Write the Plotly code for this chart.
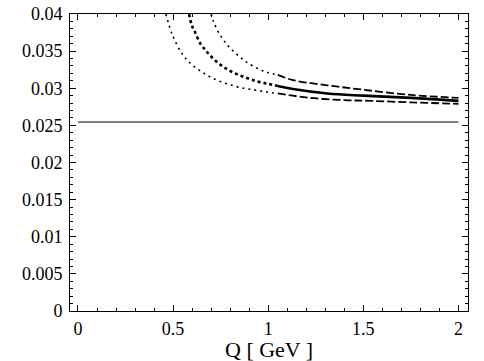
import numpy as np
import plotly.graph_objects as go

# values
q_lower = [0.462, 0.496, 0.546, 0.589, 0.651, 0.712, 0.783, 0.853, 0.923, 0.993, 1.05, 1.22, 1.40, 1.54, 1.75, 2.0]
v_lower = [0.0400, 0.0372, 0.0347, 0.0334, 0.0322, 0.0313, 0.0306, 0.0301, 0.0298, 0.0295, 0.0293, 0.0287, 0.0284, 0.0283, 0.0281, 0.0279]

q_mid = [0.584, 0.598, 0.616, 0.646, 0.668, 0.695, 0.747, 0.809, 0.875, 0.944, 1.0, 1.05, 1.13, 1.31, 1.5, 1.75, 2.0]
v_mid = [0.0400, 0.0385, 0.0375, 0.0359, 0.0352, 0.0344, 0.0332, 0.0322, 0.0315, 0.0309, 0.0306, 0.0303, 0.0299, 0.0293, 0.0290, 0.0287, 0.0283]

q_upper = [0.700, 0.712, 0.744, 0.786, 0.838, 0.893, 0.958, 1.0, 1.05, 1.13, 1.31, 1.5, 1.75, 2.0]
v_upper = [0.0400, 0.0390, 0.0373, 0.0358, 0.0345, 0.0334, 0.0325, 0.0321, 0.0318, 0.0311, 0.0304, 0.0298, 0.0291, 0.0287]

q_const = [0.0, 2.0]
v_const = [0.02545, 0.02545]

q_split = 1.05
FONT = 'Liberation Serif, Times New Roman, serif'

def split(q, v):
    q = np.array(q); v = np.array(v)
    lo = q <= q_split; hi = q >= q_split
    return (q[lo], v[lo]), (q[hi], v[hi])

fig = go.Figure()

fig.add_trace(go.Scatter(x=q_const, y=v_const, mode='lines',
                         line=dict(color='black', width=1)))

for q, v, thick in [(q_lower, v_lower, False), (q_mid, v_mid, True), (q_upper, v_upper, False)]:
    (ql, vl), (qh, vh) = split(q, v)
    if thick:
        fig.add_trace(go.Scatter(x=ql, y=vl, mode='lines', line_shape='spline',
                                 line=dict(color='black', width=2.6, dash='3px,3px')))
        fig.add_trace(go.Scatter(x=qh, y=vh, mode='lines', line_shape='spline',
                                 line=dict(color='black', width=2.6)))
    else:
        fig.add_trace(go.Scatter(x=ql, y=vl, mode='lines', line_shape='spline',
                                 line=dict(color='black', width=1.6, dash='2px,4px')))
        fig.add_trace(go.Scatter(x=qh, y=vh, mode='lines', line_shape='spline',
                                 line=dict(color='black', width=1.8, dash='8px,3px')))

axis_common = dict(showline=True, linecolor='black', linewidth=1, mirror='ticks',
                   ticks='inside', ticklen=6, tickcolor='black', showgrid=False,
                   zeroline=False, automargin=False,
                   tickfont=dict(family=FONT, size=18, color='black'))

fig.update_xaxes(range=[-0.042, 2.05], tick0=0, dtick=0.5, ticklabelstandoff=1,
                 minor=dict(ticks='inside', ticklen=3, dtick=0.1, tickcolor='black'),
                 **axis_common)
fig.update_yaxes(range=[0, 0.04], tick0=0, dtick=0.005, ticklabelstandoff=3,
                 minor=dict(ticks='inside', ticklen=3, dtick=0.001, tickcolor='black'),
                 **axis_common)

# x title placed by hand so it sits tight under the tick labels
fig.add_annotation(text='Q [ GeV ]', xref='paper', yref='paper', x=0.5, y=0,
                   xanchor='center', yanchor='top', yshift=-24, showarrow=False,
                   font=dict(family=FONT, size=22, color='black'))

fig.update_layout(width=484, height=361, showlegend=False,
                  font=dict(family=FONT, color='black'),
                  margin=dict(l=70, r=16, t=14, b=50),
                  plot_bgcolor='white', paper_bgcolor='white')

# page has a default 8px body margin, drop it so the figure fills the window
fig.write_html("out.html", config={'displayModeBar': False},
               post_script="document.body.style.margin='0';")
